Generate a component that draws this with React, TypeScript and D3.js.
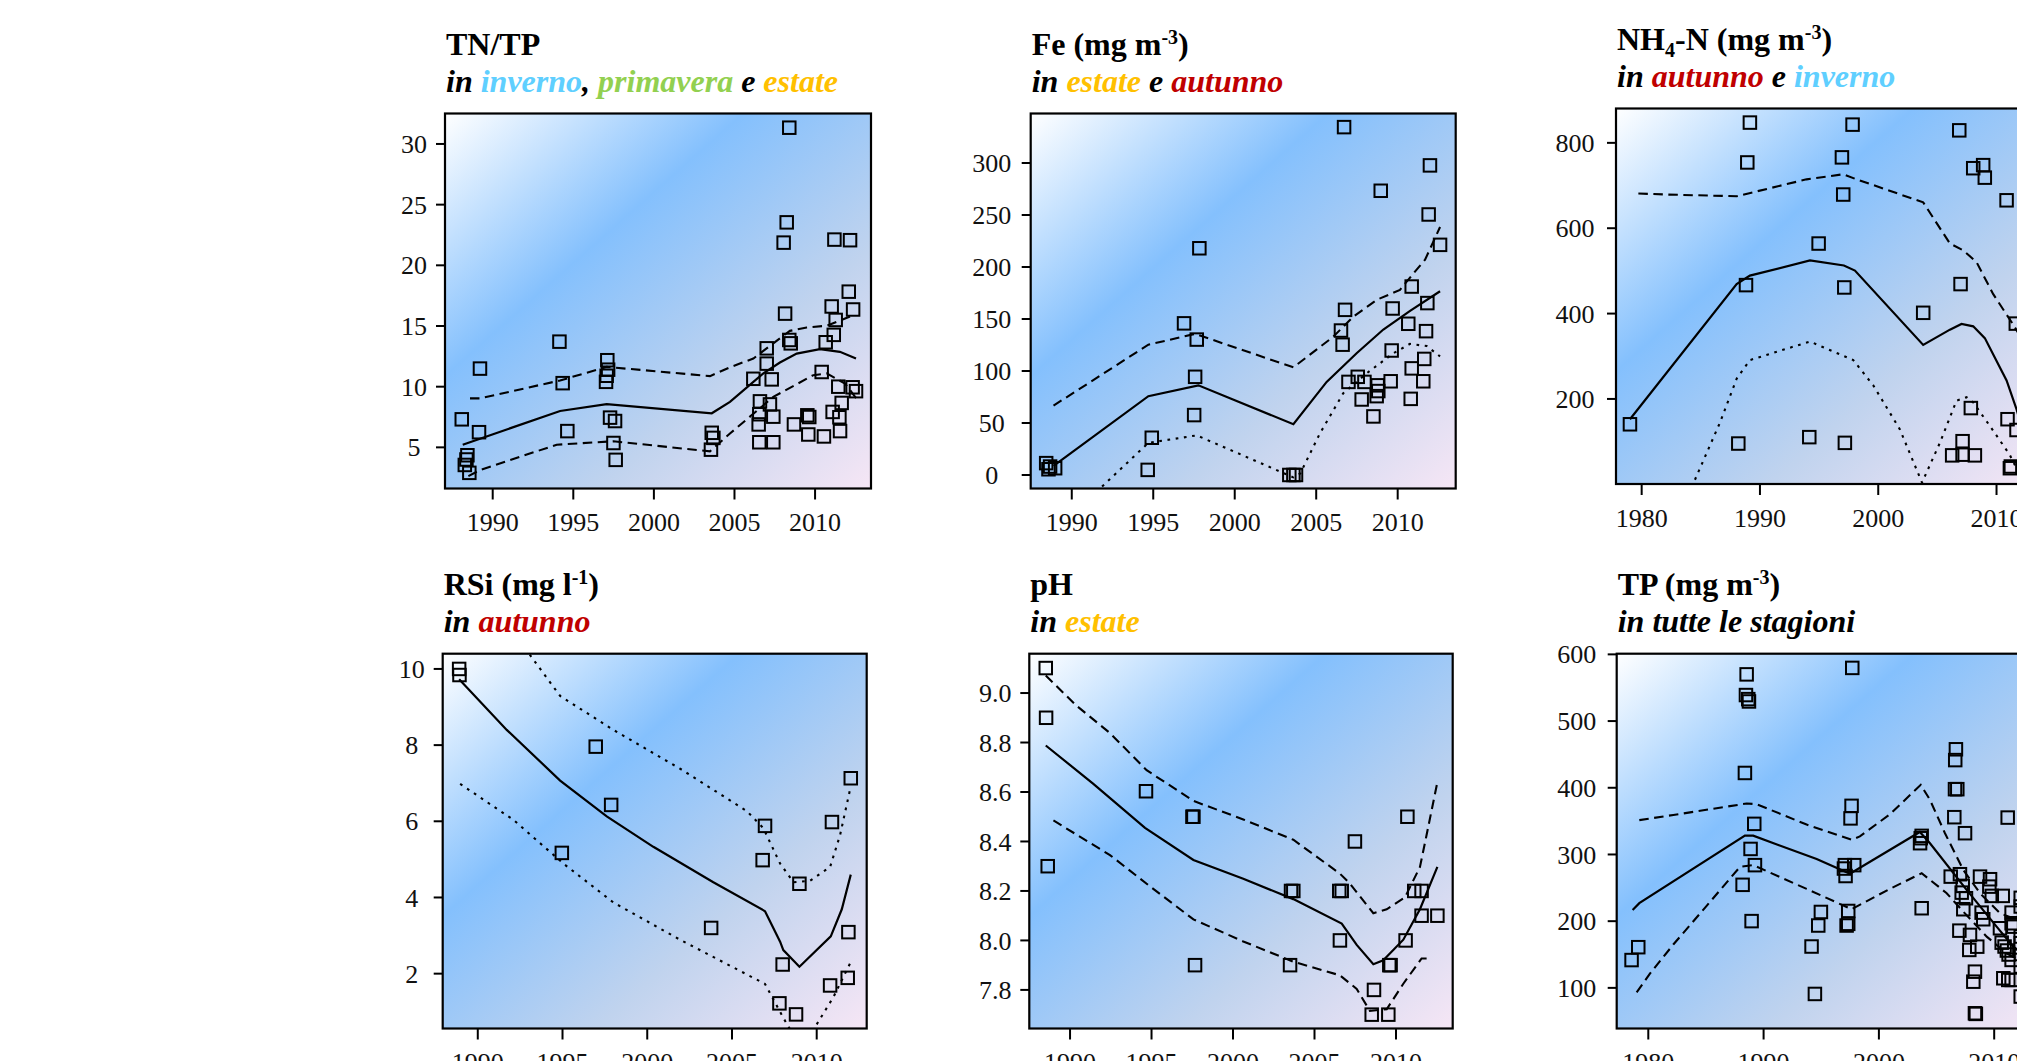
import React from 'react';
import * as d3 from 'd3';

type Pt = [number, number];

const FONT = '"Liberation Serif", "Times New Roman", Times, serif';

// colours of the season words in the subtitles
const C_INVERNO = '#5fcfff';
const C_PRIMAVERA = '#92d050';
const C_ESTATE = '#ffc000';
const C_AUTUNNO = '#c00000';

// x axis ticks
const YEARS_5 = [1990, 1995, 2000, 2005, 2010];
const YEARS_10 = [1980, 1990, 2000, 2010];

// ---------- TN/TP ----------
const tntpTicks = [5, 10, 15, 20, 25, 30];
const tntpPoints: Pt[] = [
  [1988.08, 7.31], [1988.43, 4.35], [1988.37, 4.0], [1988.27, 3.55], [1988.55, 2.9], [1989.21, 11.49], [1989.15, 6.25],
  [1994.14, 13.71], [1994.34, 10.29], [1994.63, 6.34],
  [1997.11, 12.18], [1997.16, 11.4], [1997.07, 10.9], [1997.03, 10.4], [1997.28, 7.45], [1997.59, 7.17], [1997.49, 5.36], [1997.63, 3.97],
  [2003.59, 6.2], [2003.69, 5.78], [2003.54, 4.81],
  [2006.17, 10.65], [2006.58, 8.79], [2006.54, 7.73], [2006.5, 6.89], [2006.54, 5.42],
  [2007.0, 13.16], [2007.0, 11.9], [2007.31, 10.6], [2007.2, 8.54], [2007.41, 7.53], [2007.41, 5.42],
  [2008.4, 31.34], [2008.24, 23.54], [2008.05, 21.87], [2008.14, 16.02], [2008.4, 13.85], [2008.49, 13.57], [2008.69, 6.89],
  [2009.52, 7.64], [2009.64, 7.5], [2009.58, 6.06],
  [2010.41, 11.21], [2010.66, 13.66], [2010.55, 5.9],
  [2011.03, 16.61], [2011.28, 15.5], [2011.16, 14.27], [2011.2, 22.12], [2011.44, 10.0], [2011.65, 8.66], [2011.09, 7.92], [2011.51, 7.48], [2011.55, 6.34],
  [2012.17, 22.07], [2012.09, 17.83], [2012.36, 16.36], [2012.33, 9.95], [2012.54, 9.63],
];
const tntpFit: Pt[] = [
  [1988.14, 5.22], [1994.18, 8.0], [1997.07, 8.56], [2003.59, 7.81], [2004.72, 8.75], [2006.79, 11.09],
  [2007.82, 11.99], [2008.86, 12.73], [2010.3, 13.09], [2011.54, 12.87], [2012.54, 12.32],
];
const tntpUpper: Pt[] = [
  [1988.59, 9.04], [1989.21, 9.04], [1994.18, 10.51], [1997.07, 11.63], [2003.48, 10.87], [2004.72, 11.6],
  [2006.17, 12.32], [2007.82, 13.99], [2008.44, 14.6], [2009.48, 14.88], [2010.72, 15.02], [2012.17, 15.78],
];
const tntpLower: Pt[] = [
  [1988.49, 2.63], [1989.21, 3.13], [1993.97, 5.22], [1997.49, 5.5], [2003.48, 4.67], [2004.72, 6.14],
  [2007.41, 9.16], [2009.89, 10.95], [2010.72, 11.09], [2011.86, 10.26], [2012.58, 9.0],
];

// ---------- Fe ----------
const feTicks = [0, 50, 100, 150, 200, 250, 300];
const fePoints: Pt[] = [
  [1988.43, 11.4], [1988.57, 5.5], [1988.98, 6.5], [1988.67, 8.1],
  [1994.91, 35.8], [1994.66, 4.9],
  [1996.89, 145.8], [1997.67, 130.2], [1997.57, 94.4], [1997.51, 57.6], [1997.83, 218.0],
  [2003.35, 0], [2003.6, 0], [2003.76, 0],
  [2006.71, 334.5], [2006.77, 158.8], [2006.52, 138.9], [2006.62, 125.3], [2006.98, 89.5],
  [2007.55, 94.4], [2007.96, 89.5], [2007.79, 72.6],
  [2008.96, 273.3], [2008.77, 86.2], [2008.81, 80.7], [2008.71, 75.8], [2008.51, 56.3],
  [2009.69, 160.1], [2009.63, 119.7], [2009.57, 90.1],
  [2010.86, 181.2], [2010.65, 145.4], [2010.86, 102.5], [2010.8, 73.2],
  [2011.98, 297.7], [2011.9, 250.5], [2011.82, 165.3], [2011.74, 138.3], [2011.63, 111.6], [2011.57, 90.1],
  [2012.6, 221.3],
];
const feFit: Pt[] = [
  [1988.88, 8.8], [1994.7, 75.8], [1997.77, 86.2], [2003.6, 48.8], [2005.64, 89.5], [2007.48, 117.1],
  [2009.12, 139.9], [2010.76, 157.8], [2012.6, 176.7],
];
const feUpper: Pt[] = [
  [1988.88, 66.7], [1994.7, 125.3], [1997.57, 135.7], [2003.6, 103.5], [2006.05, 133], [2007.28, 152.3],
  [2008.71, 168.4], [2010.14, 178], [2011.06, 195.6], [2011.68, 207], [2012.6, 238.5],
];
const feLower: Pt[] = [
  [1988.9, -55], [1991.84, -11.4], [1994.7, 30.9], [1997.67, 38.1], [2003.6, -2.3], [2004.02, 1.5], [2005.23, 40],
  [2006.66, 78.6], [2008.1, 97.8], [2009.73, 117], [2010.75, 126], [2011.78, 124], [2012.6, 114],
];

// ---------- NH4-N ----------
const nh4Ticks = [200, 400, 600, 800];
const nh4Points: Pt[] = [
  [1979.01, 140.6],
  [1988.17, 95.5], [1988.82, 466.7], [1988.93, 754.1], [1989.15, 847.5],
  [1994.17, 110.5], [1994.96, 564.1],
  [1996.93, 766.0], [1997.04, 678.9], [1997.13, 461.2], [1997.18, 97.1], [1997.83, 842.7],
  [2003.8, 401.8],
  [2006.85, 829.3], [2006.96, 469.1], [2007.13, 101.0], [2006.25, 67.8], [2007.13, 69.4], [2008.17, 67.8], [2007.83, 178.6],
  [2008.03, 740.6], [2008.87, 747.8], [2009.01, 718.5],
  [2010.85, 665.4], [2010.93, 152.5], [2011.13, 37.7], [2011.21, 41.7], [2011.63, 376.5], [2011.69, 127.2],
];
const nh4Fit: Pt[] = [
  [1979.01, 152.5], [1988.03, 469.1], [1989.15, 488.9], [1994.23, 524.5], [1997.1, 512.7], [1998.03, 500.8],
  [2003.8, 326.6], [2006.06, 362.3], [2007.04, 375.7], [2008.03, 370.2], [2009.01, 342.5], [2010.85, 243.5],
  [2011.69, 176.2], [2012.6, 90],
];
const nh4Upper: Pt[] = [
  [1979.72, 681.3], [1982.11, 678.9], [1988.03, 674.9], [1989.44, 684.4], [1993.94, 714.5], [1997.04, 726.4],
  [1998.17, 714.5], [2003.8, 660.7], [2006.06, 564.1], [2007.18, 548.3], [2008.31, 520.6], [2009.72, 445.4],
  [2011.41, 374.1], [2012.6, 320],
];
const nh4Lower: Pt[] = [
  [1982.0, -150], [1984.37, 2.1], [1986.62, 144.6], [1988.03, 247.5], [1989.15, 291.0], [1994.23, 334.5],
  [1997.89, 291.0], [1999.58, 231.7], [2001.83, 128.7], [2003.7, 4], [2005.21, 97], [2006.62, 196],
  [2007.46, 204], [2008.03, 192], [2009.44, 136.7], [2011.1, 70], [2012.0, 20],
];

// ---------- RSi ----------
const rsiTicks = [2, 4, 6, 8, 10];
const rsiPoints: Pt[] = [
  [1988.9, 10.0], [1988.92, 9.84], [1994.96, 5.17], [1996.96, 7.96], [1997.87, 6.43], [2003.77, 3.2],
  [2006.95, 5.88], [2006.81, 4.98], [2007.99, 2.24], [2007.8, 1.22], [2008.98, 4.36], [2008.78, 0.93],
  [2010.9, 5.98], [2010.79, 1.69], [2011.87, 3.09], [2011.83, 1.89], [2012.01, 7.13],
];
const rsiFit: Pt[] = [
  [1988.9, 9.73], [1991.71, 8.4], [1994.86, 7.07], [1997.61, 6.13], [2000.36, 5.33], [2003.9, 4.4],
  [2006.95, 3.64], [2007.84, 2.84], [2008.03, 2.62], [2008.98, 2.18], [2010.83, 2.98], [2011.48, 3.69], [2012.01, 4.6],
];
const rsiUpper: Pt[] = [
  [1988.9, 12.8], [1993.09, 10.36], [1994.86, 9.29], [1998.0, 8.4], [2001.94, 7.38], [2005.87, 6.27],
  [2006.85, 5.82], [2007.84, 4.89], [2008.63, 4.4], [2009.61, 4.44], [2010.79, 4.8], [2011.38, 5.64], [2011.97, 6.84],
];
const rsiLower: Pt[] = [
  [1988.96, 6.98], [1992.1, 6.04], [1995.05, 4.89], [1998.0, 3.87], [2001.94, 2.89], [2006.95, 1.73],
  [2008.03, 0.84], [2009.0, 0.1], [2010.0, 0.67], [2010.98, 1.38], [2011.97, 2.27],
];

// ---------- pH ----------
const phTicks = [7.8, 8.0, 8.2, 8.4, 8.6, 8.8, 9.0];
const phPoints: Pt[] = [
  [1988.51, 9.101], [1988.53, 8.9], [1988.63, 8.3], [1994.66, 8.603], [1997.51, 8.5], [1997.57, 8.5], [1997.67, 7.9],
  [2003.56, 8.2], [2003.7, 8.2], [2003.5, 7.9], [2006.52, 8.2], [2006.67, 8.2], [2006.56, 8.0], [2007.48, 8.4],
  [2008.65, 7.8], [2008.51, 7.7], [2009.53, 7.7], [2009.59, 7.9], [2009.67, 7.9], [2010.7, 8.5], [2010.59, 8.0],
  [2011.12, 8.2], [2011.57, 8.2], [2011.57, 8.1], [2012.54, 8.1],
];
const phFit: Pt[] = [
  [1988.51, 8.788], [1991.43, 8.633], [1994.6, 8.455], [1997.57, 8.325], [2000.63, 8.249], [2003.7, 8.167],
  [2006.67, 8.068], [2007.59, 7.982], [2008.61, 7.904], [2009.22, 7.92], [2010.45, 8.003], [2011.47, 8.126], [2012.54, 8.297],
];
const phUpper: Pt[] = [
  [1988.51, 9.071], [1990.41, 8.948], [1992.45, 8.838], [1994.7, 8.688], [1997.57, 8.564], [2000.63, 8.489],
  [2003.7, 8.407], [2006.56, 8.27], [2007.18, 8.229], [2008.61, 8.11], [2009.43, 8.126], [2010.55, 8.174],
  [2011.47, 8.297], [2011.88, 8.427], [2012.54, 8.64],
];
const phLower: Pt[] = [
  [1988.98, 8.485], [1992.45, 8.345], [1994.7, 8.229], [1997.57, 8.085], [2000.63, 7.996], [2003.7, 7.914],
  [2006.56, 7.859], [2007.59, 7.804], [2008.4, 7.715], [2009.43, 7.722], [2010.45, 7.825], [2011.57, 7.927], [2012.09, 7.927],
];

// ---------- TP ----------
const tpTicks = [100, 200, 300, 400, 500, 600];
const tpPoints: Pt[] = [
  [1978.55, 141.7], [1979.13, 161.0],
  [1988.53, 570.0], [1988.47, 539.0], [1988.67, 532.9], [1988.73, 529.4], [1988.38, 422.2], [1989.19, 345.9],
  [1988.87, 308.3], [1989.25, 284.0], [1988.18, 254.5], [1988.96, 200.1],
  [1994.97, 213.8], [1994.74, 193.5], [1994.16, 162.0], [1994.45, 90.9],
  [1997.69, 579.7], [1997.63, 372.9], [1997.54, 354.1], [1997.05, 284.0], [1997.86, 284.0], [1996.97, 278.9],
  [1997.11, 267.7], [1997.34, 215.3], [1997.2, 193.5], [1997.34, 196.0],
  [2003.63, 324.4], [2003.71, 327.9], [2003.57, 316.9], [2003.71, 219.4],
  [2006.68, 457.7], [2006.62, 441.5], [2006.6, 397.9], [2006.8, 397.9], [2006.54, 355.9], [2007.47, 331.9],
  [2006.23, 266.8], [2007.03, 270.4], [2007.27, 252.9], [2007.18, 242.8], [2007.55, 234.4], [2007.32, 217.9],
  [2006.98, 185.8], [2007.9, 179.4], [2008.53, 161.8], [2007.84, 156.9], [2008.33, 124.3], [2008.19, 109.3],
  [2008.33, 61.9], [2008.41, 61.0], [2008.77, 266.8], [2008.91, 212.8], [2009.05, 202.9],
  [2009.64, 262.9], [2009.58, 251.8], [2009.79, 237.9], [2010.74, 237.9], [2010.5, 189.4], [2011.17, 355.3],
  [2011.51, 212.8], [2011.51, 196.9], [2011.66, 191.8], [2010.65, 167.8], [2010.9, 162], [2011.1, 156],
  [2011.25, 150], [2011.51, 141.9], [2010.79, 114.4], [2011.22, 111.9], [2011.51, 111.9],
  [2012.3, 235], [2012.3, 222], [2012.3, 177], [2012.3, 167], [2012.3, 132], [2012.3, 87],
];
const tpFit: Pt[] = [
  [1978.64, 216.9], [1979.22, 227.0], [1988.38, 328.2], [1989.1, 328.2], [1994.6, 293.1], [1997.49, 271.2],
  [2003.55, 333.7], [2004.43, 316.9], [2007.61, 246.9], [2010.21, 191.8], [2011.66, 161.8], [2012.6, 150],
];
const tpUpper: Pt[] = [
  [1979.22, 351.5], [1982.17, 359.2], [1988.53, 376.4], [1989.39, 375.4], [1993.73, 344.9], [1997.63, 322.0],
  [1998.35, 327.1], [2000.95, 360.2], [2003.63, 404.4], [2004.43, 381.9], [2005.73, 331.9], [2007.32, 276.9],
  [2008.77, 241.9], [2010.5, 211.9], [2012.3, 200],
];
const tpLower: Pt[] = [
  [1978.99, 93.4], [1980.14, 121.3], [1982.17, 165], [1985.06, 223], [1987.95, 281.4], [1989.1, 284.0],
  [1993.73, 248.4], [1997.63, 217.9], [2000.95, 248.4], [2003.71, 271.9], [2005.88, 241.9], [2007.32, 214.3],
  [2009.35, 176.8], [2011.08, 151.9], [2012.3, 140],
];

type Seg = { t: string; sup?: boolean; sub?: boolean; c?: string };

type PanelCfg = {
  key: string;
  left: number; top: number; width: number; height: number;
  xDomain: [number, number]; yDomain: [number, number];
  xTicks: number[]; yTicks: number[]; yFmt: (v: number) => string; labelOffset: number;
  title: Seg[]; subtitle: Seg[];
  points: Pt[]; fit: Pt[]; upper: Pt[]; lower: Pt[];
  upperDash: string; lowerDash: string;
};

const DASHED = '9.5 5.5';
const DOTTED = '2.7 5.6';
const plain = (v: number) => String(v);

const PANELS: PanelCfg[] = [
  {
    key: 'tntp', left: 445, top: 113.5, width: 426, height: 375,
    xDomain: [1987.04, 2013.47], yDomain: [1.61, 32.51], xTicks: YEARS_5, yTicks: tntpTicks, yFmt: plain, labelOffset: 31,
    title: [{ t: 'TN/TP' }],
    subtitle: [{ t: 'in ' }, { t: 'inverno', c: C_INVERNO }, { t: ', ' }, { t: 'primavera', c: C_PRIMAVERA }, { t: ' e ' }, { t: 'estate', c: C_ESTATE }],
    points: tntpPoints, fit: tntpFit, upper: tntpUpper, lower: tntpLower, upperDash: DASHED, lowerDash: DASHED,
  },
  {
    key: 'fe', left: 1030.7, top: 113.5, width: 425, height: 375,
    xDomain: [1987.48, 2013.56], yDomain: [-13.0, 347.6], xTicks: YEARS_5, yTicks: feTicks, yFmt: plain, labelOffset: 39,
    title: [{ t: 'Fe (mg m' }, { t: '-3', sup: true }, { t: ')' }],
    subtitle: [{ t: 'in ' }, { t: 'estate', c: C_ESTATE }, { t: ' e ' }, { t: 'autunno', c: C_AUTUNNO }],
    points: fePoints, fit: feFit, upper: feUpper, lower: feLower, upperDash: DASHED, lowerDash: DOTTED,
  },
  {
    key: 'nh4', left: 1616, top: 108.5, width: 425, height: 375.5,
    xDomain: [1977.83, 2013.76], yDomain: [0.7, 880.5], xTicks: YEARS_10, yTicks: nh4Ticks, yFmt: plain, labelOffset: 41,
    title: [{ t: 'NH' }, { t: '4', sub: true }, { t: '-N (mg m' }, { t: '-3', sup: true }, { t: ')' }],
    subtitle: [{ t: 'in ' }, { t: 'autunno', c: C_AUTUNNO }, { t: ' e ' }, { t: 'inverno', c: C_INVERNO }],
    points: nh4Points, fit: nh4Fit, upper: nh4Upper, lower: nh4Lower, upperDash: DASHED, lowerDash: DOTTED,
  },
  {
    key: 'rsi', left: 442.7, top: 653.7, width: 424, height: 374.8,
    xDomain: [1987.93, 2012.95], yDomain: [0.56, 10.4], xTicks: YEARS_5, yTicks: rsiTicks, yFmt: plain, labelOffset: 31,
    title: [{ t: 'RSi (mg l' }, { t: '-1', sup: true }, { t: ')' }],
    subtitle: [{ t: 'in ' }, { t: 'autunno', c: C_AUTUNNO }],
    points: rsiPoints, fit: rsiFit, upper: rsiUpper, lower: rsiLower, upperDash: DOTTED, lowerDash: DOTTED,
  },
  {
    key: 'ph', left: 1029.3, top: 653.7, width: 423.4, height: 374.8,
    xDomain: [1987.5, 2013.48], yDomain: [7.644, 9.159], xTicks: YEARS_5, yTicks: phTicks, yFmt: d3.format('.1f'), labelOffset: 34,
    title: [{ t: 'pH' }],
    subtitle: [{ t: 'in ' }, { t: 'estate', c: C_ESTATE }],
    points: phPoints, fit: phFit, upper: phUpper, lower: phLower, upperDash: DASHED, lowerDash: DASHED,
  },
  {
    key: 'tp', left: 1616.7, top: 653.7, width: 425, height: 374.8,
    xDomain: [1977.26, 2014.12], yDomain: [39.1, 601], xTicks: YEARS_10, yTicks: tpTicks, yFmt: plain, labelOffset: 40,
    title: [{ t: 'TP (mg m' }, { t: '-3', sup: true }, { t: ')' }],
    subtitle: [{ t: 'in tutte le stagioni' }],
    points: tpPoints, fit: tpFit, upper: tpUpper, lower: tpLower, upperDash: DASHED, lowerDash: DASHED,
  },
];

function segTspans(segs: Seg[], big: number, small: number) {
  let cur = 0;
  return segs.map((s, i) => {
    const target = s.sup ? -11 : s.sub ? 6.5 : 0;
    const dy = target - cur;
    cur = target;
    return (
      <tspan key={i} dy={dy || undefined} fontSize={s.sup || s.sub ? small : big} fill={s.c || '#000'}>
        {s.t}
      </tspan>
    );
  });
}

const SQ = 12.5;

function Panel({ cfg }: { cfg: PanelCfg }) {
  const { left, top, width, height } = cfg;
  const x = d3.scaleLinear().domain(cfg.xDomain).range([0, width]);
  const y = d3.scaleLinear().domain(cfg.yDomain).range([height, 0]);
  const line = d3.line<Pt>().x(d => x(d[0])).y(d => y(d[1]));
  const clipId = `clip-${cfg.key}`;

  return (
    <g transform={`translate(${left},${top})`}>
      <defs>
        <clipPath id={clipId}>
          <rect x={0} y={0} width={width} height={height} />
        </clipPath>
      </defs>
      <rect x={0} y={0} width={width} height={height} fill="url(#bgGrad)" />
      <g clipPath={`url(#${clipId})`} fill="none" stroke="#000">
        <path d={line(cfg.upper) || ''} strokeWidth={2.1} strokeDasharray={cfg.upperDash} />
        <path d={line(cfg.lower) || ''} strokeWidth={2.1} strokeDasharray={cfg.lowerDash} />
        <path d={line(cfg.fit) || ''} strokeWidth={2.2} />
        {cfg.points.map((p, i) => (
          <rect key={i} x={x(p[0]) - SQ / 2} y={y(p[1]) - SQ / 2} width={SQ} height={SQ} strokeWidth={2} />
        ))}
      </g>
      <rect x={0} y={0} width={width} height={height} fill="none" stroke="#000" strokeWidth={2.2} />

      {cfg.yTicks.map(t => (
        <g key={`y${t}`}>
          <line x1={-9} x2={0} y1={y(t)} y2={y(t)} stroke="#000" strokeWidth={2} />
          <text x={-cfg.labelOffset} y={y(t)} dy="0.35em" textAnchor="middle" fontSize={26} fontFamily={FONT} fill="#111">
            {cfg.yFmt(t)}
          </text>
        </g>
      ))}
      {cfg.xTicks.map(t => (
        <g key={`x${t}`}>
          <line x1={x(t)} x2={x(t)} y1={height} y2={height + 11} stroke="#000" strokeWidth={2} />
          <text x={x(t)} y={height + 42.5} textAnchor="middle" fontSize={26} fontFamily={FONT} fill="#111">
            {t}
          </text>
        </g>
      ))}

      <text x={1} y={-58.5} fontFamily={FONT} fontWeight="bold" fontSize={32} style={{ whiteSpace: 'pre' }}>
        {segTspans(cfg.title, 32, 20)}
      </text>
      <text x={1} y={-21.5} fontFamily={FONT} fontWeight="bold" fontStyle="italic" fontSize={32} style={{ whiteSpace: 'pre' }}>
        {segTspans(cfg.subtitle, 32, 20)}
      </text>
    </g>
  );
}

export default function App() {
  return (
    <svg
      width={2017}
      height={1061}
      viewBox="0 0 2017 1061"
      style={{ position: 'absolute', left: 0, top: 0, background: '#fff', display: 'block' }}
    >
      <defs>
        <linearGradient id="bgGrad" x1="0" y1="0" x2="1" y2="1">
          <stop offset="0" stopColor="#ffffff" />
          <stop offset="0.35" stopColor="#84c0fd" />
          <stop offset="0.68" stopColor="#c0d3ee" />
          <stop offset="1" stopColor="#f6e6f5" />
        </linearGradient>
      </defs>
      {PANELS.map(p => (
        <Panel key={p.key} cfg={p} />
      ))}
    </svg>
  );
}
